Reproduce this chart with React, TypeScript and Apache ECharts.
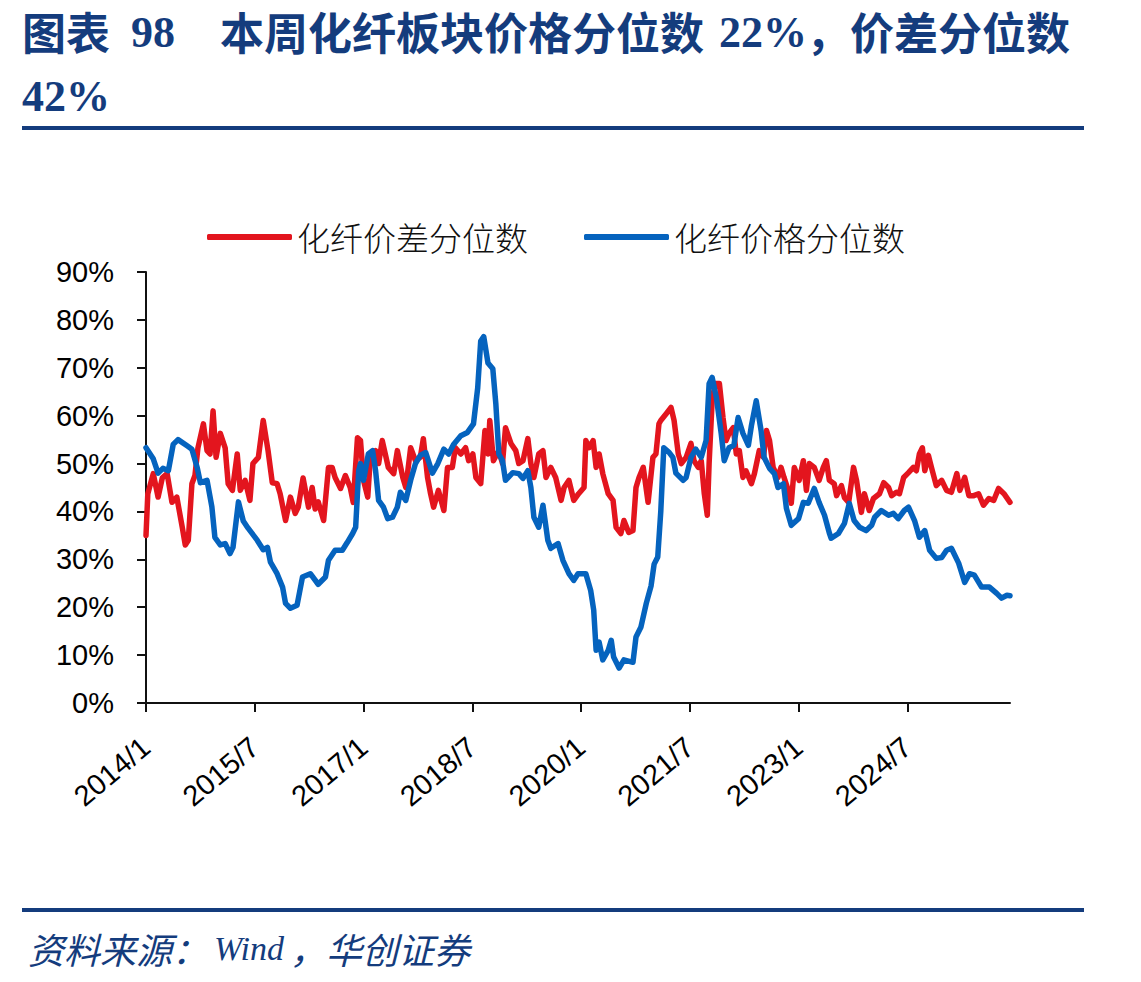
import React, { useEffect, useRef } from "react";
import * as echarts from "echarts";

// Months elapsed since 2014/1 (x) and percentile values in % (y)
const spreadMonth = [
  0, 0.3, 1.2, 2.0, 2.7, 3.5, 4.3, 5.1, 6.0, 6.5, 7.0, 7.6, 8.1, 8.6, 9.5, 10.1, 10.6, 11.1, 11.6, 12.3,
  13.1, 13.6, 14.3, 15.1, 15.6, 16.4, 17.2, 17.7, 18.6, 19.4, 20.2, 20.9, 21.7, 22.2, 23.1, 23.9, 24.7, 25.2, 26.0, 26.9,
  27.5, 28.0, 28.5, 29.4, 30.2, 30.8, 31.3, 32.2, 33.0, 33.8, 34.3, 35.0, 35.5, 36.0, 36.7, 37.1, 38.0, 38.5, 39.1, 39.6,
  40.1, 41.0, 41.6, 42.5, 43.0, 43.8, 44.6, 45.4, 45.9, 46.6, 47.1, 47.6, 48.4, 49.3, 49.9, 50.7, 51.2, 52.1, 52.9, 53.4,
  54.1, 54.6, 55.4, 56.1, 56.6, 56.9, 57.5, 58.4, 59.0, 59.5, 60.4, 61.2, 61.7, 62.4, 63.2, 63.7, 64.2, 65.0, 65.7, 66.2,
  67.0, 67.8, 68.7, 69.2, 70.0, 70.8, 71.6, 72.5, 72.8, 73.3, 74.0, 74.5, 75.0, 75.6, 76.5, 77.3, 77.8, 78.6, 79.1, 79.9,
  80.6, 81.1, 81.6, 82.3, 83.1, 83.9, 84.4, 84.9, 85.2, 86.1, 86.9, 87.4, 88.1, 88.6, 89.4, 90.2, 90.7, 91.4, 91.9, 92.4,
  92.9, 93.2, 93.7, 94.2, 94.9, 95.5, 96.0, 96.5, 97.2, 97.7, 98.2, 98.8, 99.3, 100.2, 100.7, 101.5, 102.2, 102.7, 103.2, 103.8,
  104.6, 105.1, 105.6, 106.3, 106.8, 107.3, 108.1, 108.8, 109.3, 109.8, 110.6, 111.4, 112.1, 112.6, 113.1, 113.9, 114.3, 115.1, 115.6, 116.3,
  117.1, 117.6, 118.1, 118.4, 118.9, 119.7, 120.4, 121.4, 122.1, 122.9, 123.4, 124.2, 124.7, 125.4, 126.2, 127.0, 127.5, 128.0, 128.5, 128.9,
  129.5, 130.0, 130.8, 131.7, 132.5, 133.3, 134.2, 134.7, 135.5, 136.2, 137.0, 137.8, 138.6, 139.5, 140.3, 141.1, 142.0, 142.4, 143.0,
];
const spreadValue = [
  35, 43.7, 47.9, 43, 47, 47.9, 41.9, 43, 36.7, 33, 34, 45.8, 47.5, 53.3, 58.3, 52.7, 52, 61, 51.3, 56.3,
  53.3, 45.8, 44.4, 52, 44.4, 46.5, 42.3, 50, 51.3, 59, 52.7, 46, 45.8, 43.7, 38.1, 43, 39.6, 40.9, 47, 40.9,
  45, 40.5, 42, 38.1, 49.2, 49.2, 47.1, 44.8, 47.5, 45, 41.9, 55.4, 54.8, 46.5, 43, 50.6, 52.7, 50, 54.8, 52,
  49.2, 47.9, 52.7, 47.1, 45, 53.3, 50.6, 51.3, 55.2, 47.1, 43.7, 40.9, 44.4, 40.2, 49.2, 49.2, 53.3, 52, 53.3, 50.6,
  52, 47.1, 45.8, 56.9, 52, 59, 50.6, 52.7, 50, 57.5, 54.2, 52.7, 50, 50.6, 55.2, 50, 47.1, 52, 52.7, 47.1,
  49.2, 47.1, 42.3, 45, 46.5, 42.3, 43.7, 45, 54.8, 53.3, 54.8, 49.2, 52, 47.9, 43.7, 42.3, 36.7, 35.4, 38.1, 35.6,
  36, 45, 47.1, 49.2, 41.9, 51.3, 52, 58.3, 59, 60.4, 61.7, 59, 52, 50, 51.3, 54.2, 50.6, 49.2, 50.6, 43.7,
  39.2, 50, 63.1, 66.7, 66.7, 59.6, 54.8, 56.3, 57.5, 52, 52.7, 47.1, 48.5, 45.8, 47.9, 52.7, 51.3, 56.9, 54.8, 49.2,
  47.1, 49.2, 47.1, 44.4, 41.7, 49.2, 46.5, 50.6, 44.4, 50, 49.2, 46.5, 49.2, 50.6, 46.5, 45.8, 43.3, 45.4, 42.9, 41.9,
  49.2, 46.5, 42.3, 39.8, 43.7, 40.2, 42.7, 43.7, 46, 45, 43.3, 44, 43.7, 47.1, 48.1, 49.2, 48.5, 52, 53.3, 48.5,
  51.7, 49.2, 45.4, 46.5, 44.4, 44, 47.9, 44.4, 47.1, 43.3, 43.3, 43.7, 41.3, 42.7, 42.3, 44.8, 43.7, 43, 41.9,
];

const priceMonth = [
  0, 1.2, 2.0, 2.8, 3.7, 4.5, 5.3, 6.8, 7.6, 8.5, 9.0, 10.1, 10.9, 11.4, 12.3, 13.1, 13.9, 14.4, 15.3, 16.1,
  16.9, 18.4, 19.4, 20.1, 20.6, 21.7, 22.6, 23.1, 23.9, 25.0, 25.9, 27.2, 28.5, 29.7, 30.2, 31.3, 32.5, 33.3, 34.2, 34.7,
  35.2, 35.5, 36.0, 36.8, 37.5, 38.0, 38.5, 39.3, 40.0, 40.8, 41.6, 42.1, 43.0, 43.8, 44.6, 45.4, 46.3, 47.4, 48.3, 49.3,
  50.1, 50.9, 52.1, 53.2, 54.2, 54.9, 55.4, 55.9, 56.6, 57.4, 57.9, 58.4, 59.0, 59.5, 60.7, 61.7, 62.4, 63.2, 63.7, 64.2,
  65.0, 65.7, 66.5, 67.0, 68.2, 69.0, 70.0, 70.8, 71.5, 72.8, 73.6, 74.1, 74.5, 75.0, 75.6, 76.5, 77.0, 77.4, 78.3, 79.1,
  80.6, 81.1, 81.9, 82.8, 83.6, 84.1, 84.7, 85.2, 85.7, 86.6, 87.2, 87.7, 88.9, 89.4, 90.2, 91.0, 91.9, 92.7, 93.2, 93.7,
  94.4, 95.2, 95.7, 96.5, 97.3, 98.0, 98.8, 99.7, 100.2, 101.0, 101.8, 102.3, 103.2, 104.0, 104.6, 105.5, 106.0, 106.8, 108.0, 108.8,
  109.6, 110.6, 111.4, 112.3, 113.1, 113.4, 114.6, 115.6, 116.4, 117.2, 118.1, 119.2, 120.1, 120.6, 121.7, 122.9, 123.7, 124.5, 125.5, 126.2,
  127.2, 128.0, 128.9, 129.7, 130.8, 131.7, 132.5, 133.3, 134.5, 135.5, 136.3, 137.1, 138.3, 139.6, 140.8, 141.6, 142.5, 143.0,
];
const priceValue = [
  53.3, 51, 48, 49, 48.5, 54, 55, 53.7, 53, 49, 46, 46.5, 41, 34.6, 33, 33.3, 31.2, 32.5, 42, 38,
  36.5, 34, 32, 32.5, 29.4, 27, 24.2, 20.8, 19.8, 20.4, 26.3, 27, 24.8, 26.3, 29.8, 31.9, 31.9, 33.5, 35.4, 36.7,
  48.5, 50, 46.5, 52, 52.7, 48.5, 42.3, 40.9, 38.5, 38.8, 40.9, 44, 42.3, 46.5, 50, 51.7, 52.3, 48, 50, 53,
  52, 54, 55.8, 56.5, 58.3, 65.8, 75.6, 76.5, 71, 69.8, 62.5, 52, 50.6, 46.5, 48.1, 47.9, 46.9, 48.5, 45, 38.8,
  36.7, 41.3, 34, 32.3, 33.3, 29.8, 27, 25.6, 27, 27, 23.5, 19.4, 11, 12.7, 9, 11, 13.1, 9.6, 7.3, 9,
  8.5, 13.8, 15.8, 20.8, 24.5, 29, 30.5, 40, 53.3, 52.3, 51.3, 48, 46.5, 47.1, 51.3, 53, 51.3, 54.8, 66.7, 68,
  63.8, 56.3, 50.6, 53.3, 53.8, 59.6, 56.3, 53.8, 57.9, 63.1, 56.9, 51.3, 49, 47.9, 45, 45.8, 40.6, 37.1, 38.5, 41.9,
  41.7, 44.8, 41.9, 39.2, 35.5, 34.4, 35.4, 37.5, 41.7, 38.1, 36.7, 36, 37.1, 38.8, 40.2, 39.2, 39.6, 38.5, 40.2, 40.9,
  38.1, 34.6, 36, 31.9, 30.2, 30.4, 31.9, 32.3, 29.2, 25.2, 27, 26.7, 24.2, 24.2, 22.9, 21.9, 22.5, 22.4,
];

const xTickLabels = ["2014/1", "2015/7", "2017/1", "2018/7", "2020/1", "2021/7", "2023/1", "2024/7"];
const seriesNames = ["化纤价差分位数", "化纤价格分位数"];

const NAVY = "#143C7D";
const RED = "#E3151E";
const BLUE = "#0563BE";
const CJK = "'Noto Sans CJK SC', sans-serif";
const SERIF = "'Liberation Serif', 'DejaVu Serif', serif";
const SANS = "'Liberation Sans', Arial, sans-serif";

const pairs = (xs: number[], ys: number[]) => xs.map((x, i) => [x, ys[i]]);

export default function App() {
  const ref = useRef<HTMLDivElement>(null);

  useEffect(() => {
    document.body.style.margin = "0";
    const chart = echarts.init(ref.current!, null, { renderer: "svg" });

    const titleText = (text: string, x: number, y: number, family: string, size = 44) => ({
      type: "text",
      x,
      y,
      style: {
        text,
        fill: NAVY,
        fontFamily: family,
        fontWeight: "bold",
        fontSize: size,
        lineHeight: size + 2,
        verticalAlign: "middle",
        textVerticalAlign: "middle",
      },
    });
    const sourceText = (text: string, x: number, family: string, size: number) => ({
      type: "text",
      x,
      y: 948,
      style: {
        text,
        fill: NAVY,
        fontFamily: family,
        fontStyle: "italic",
        fontSize: size,
        lineHeight: size + 2,
        verticalAlign: "middle",
        textVerticalAlign: "middle",
      },
    });

    chart.setOption({
      animation: false,
      backgroundColor: "#ffffff",
      graphic: [
        titleText("图表", 22, 31, CJK),
        titleText("98", 131, 32, SERIF),
        titleText("本周化纤板块价格分位数", 220, 31, CJK),
        titleText("22%", 719, 32, SERIF),
        titleText("，价差分位数", 806, 31, CJK),
        titleText("42%", 22, 96, SERIF),
        { type: "rect", shape: { x: 22, y: 126, width: 1062, height: 4 }, style: { fill: NAVY } },
        { type: "rect", shape: { x: 22, y: 908, width: 1062, height: 4 }, style: { fill: NAVY } },
        sourceText("资料来源：", 28, CJK, 36),
        sourceText("Wind", 214, SERIF, 34),
        sourceText("，华创证券", 290, CJK, 36),
      ],
      legend: {
        data: seriesNames,
        left: 207,
        top: 217,
        padding: 0,
        icon: "roundRect",
        itemWidth: 85,
        itemHeight: 6,
        itemGap: 56,
        textStyle: {
          fontFamily: CJK,
          fontSize: 33,
          fontWeight: 300,
          color: "#111",
          lineHeight: 40,
          padding: [0, 0, 0, 0],
        },
      },
      grid: { left: 146, top: 272, width: 864, height: 431, containLabel: false },
      xAxis: {
        type: "value",
        min: 0,
        max: 143,
        interval: 18,
        axisLine: { show: true, lineStyle: { color: "#111", width: 2 } },
        axisTick: { show: true, length: 9, lineStyle: { color: "#111", width: 2 } },
        splitLine: { show: false },
        axisLabel: {
          rotate: 40,
          margin: 40,
          showMaxLabel: false,
          fontFamily: SANS,
          fontSize: 29,
          color: "#000",
          formatter: (v: number) => xTickLabels[Math.round(v / 18)] ?? "",
        },
      },
      yAxis: {
        type: "value",
        min: 0,
        max: 90,
        interval: 10,
        axisLine: { show: true, lineStyle: { color: "#111", width: 2 } },
        axisTick: { show: true, length: 9, lineStyle: { color: "#111", width: 2 } },
        splitLine: { show: false },
        axisLabel: {
          margin: 32,
          fontFamily: SANS,
          fontSize: 29,
          color: "#000",
          formatter: "{value}%",
        },
      },
      series: [
        {
          name: seriesNames[0],
          type: "line",
          data: pairs(spreadMonth, spreadValue),
          showSymbol: false,
          color: RED,
          lineStyle: { color: RED, width: 5.5, join: "round", cap: "round" },
        },
        {
          name: seriesNames[1],
          type: "line",
          data: pairs(priceMonth, priceValue),
          showSymbol: false,
          color: BLUE,
          lineStyle: { color: BLUE, width: 5.5, join: "round", cap: "round" },
        },
      ],
    });

    return () => chart.dispose();
  }, []);

  return <div ref={ref} style={{ width: 1141, height: 982 }} />;
}
